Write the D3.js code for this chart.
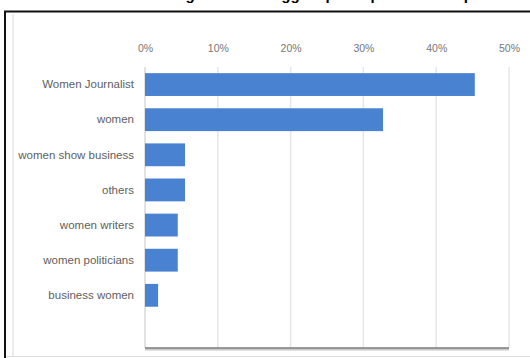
<!DOCTYPE html>
<html>
<head>
<meta charset="utf-8">
<script src="https://cdn.jsdelivr.net/npm/d3@7"></script>
<style>
  body { margin: 0; background: #fff; }
  svg { display: block; }
</style>
</head>
<body>
<svg id="chart" width="530" height="358"></svg>
<script>
// tags and their share of searches
var categories = ["Women Journalist", "women", "women show business", "others", "women writers", "women politicians", "business women"];
var shares = [0.453, 0.327, 0.055, 0.055, 0.045, 0.045, 0.018];
var tickValues = [0, 0.1, 0.2, 0.3, 0.4, 0.5];
var titleText = "Chart 4: Most searched tags with the biggest participation in the period";

var svg = d3.select("#chart");

var plotLeft = 145, plotRight = 509, plotTop = 67, plotBottom = 348;

var x = d3.scaleLinear()
    .domain([0, 0.5])
    .range([plotLeft, plotRight]);

// 8 slots in the plot, the last one stays empty
var step = (plotBottom - plotTop) / 8;
var y = d3.scaleBand()
    .domain(categories)
    .range([plotTop, plotTop + step * categories.length])
    .paddingInner(0.35)
    .paddingOuter(0.175);

// title, mostly cut off at the top of the picture
svg.append("text")
    .attr("x", 2)
    .attr("y", 0)
    .attr("font-family", "Liberation Sans, Arial, sans-serif")
    .attr("font-weight", "bold")
    .attr("font-size", 15)
    .attr("fill", "#000")
    .text(titleText);

// outer frame
svg.append("line")
    .attr("x1", 4).attr("x2", 530)
    .attr("y1", 11.5).attr("y2", 11.5)
    .attr("stroke", "#111").attr("stroke-width", 2);
svg.append("line")
    .attr("x1", 5).attr("x2", 5)
    .attr("y1", 11).attr("y2", 358)
    .attr("stroke", "#111").attr("stroke-width", 2);
svg.append("line")
    .attr("x1", 13).attr("x2", 13)
    .attr("y1", 14).attr("y2", 356)
    .attr("stroke", "#ececec").attr("stroke-width", 2);
svg.append("line")
    .attr("x1", 6).attr("x2", 530)
    .attr("y1", 356.5).attr("y2", 356.5)
    .attr("stroke", "#dddddd").attr("stroke-width", 1);

// gridlines
svg.append("g")
    .selectAll("line")
    .data(tickValues)
    .enter().append("line")
    .attr("x1", function (d) { return x(d); })
    .attr("x2", function (d) { return x(d); })
    .attr("y1", plotTop)
    .attr("y2", plotBottom)
    .attr("stroke", function (d) { return d === 0 ? "#d8d8d8" : "#e6e6e6"; })
    .attr("stroke-width", 1.5);

// tick labels on top
var xAxis = d3.axisTop(x)
    .tickValues(tickValues)
    .tickFormat(d3.format(".0%"))
    .tickSize(0)
    .tickPadding(0);

var gx = svg.append("g")
    .attr("transform", "translate(0,52)")
    .call(xAxis);
gx.select(".domain").remove();
gx.selectAll("text")
    .attr("font-family", "Liberation Sans, Arial, sans-serif")
    .attr("font-size", 10.5)
    .attr("fill", "#777");

// bars
svg.append("g")
    .selectAll("rect")
    .data(shares)
    .enter().append("rect")
    .attr("x", x(0))
    .attr("y", function (d, i) { return y(categories[i]); })
    .attr("width", function (d) { return x(d) - x(0); })
    .attr("height", y.bandwidth())
    .attr("fill", "#4a82d2");

// category labels
var yAxis = d3.axisLeft(y).tickSize(0).tickPadding(11);
var gy = svg.append("g")
    .attr("transform", "translate(" + plotLeft + ",0)")
    .call(yAxis);
gy.select(".domain").remove();
gy.selectAll("text")
    .attr("font-family", "Liberation Sans, Arial, sans-serif")
    .attr("font-size", 11.5)
    .attr("fill", "#606060");

// bottom axis line with a soft shadow
svg.append("line")
    .attr("x1", plotLeft).attr("x2", plotRight)
    .attr("y1", plotBottom + 1.5).attr("y2", plotBottom + 1.5)
    .attr("stroke", "#c8c8c8").attr("stroke-width", 2);
svg.append("line")
    .attr("x1", plotLeft).attr("x2", plotRight)
    .attr("y1", plotBottom).attr("y2", plotBottom)
    .attr("stroke", "#7a7a7a").attr("stroke-width", 1.5);
</script>
</body>
</html>
